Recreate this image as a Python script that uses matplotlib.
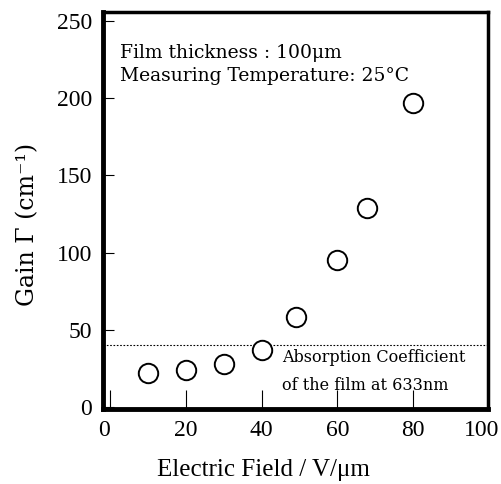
import matplotlib
matplotlib.use("Agg")
import matplotlib.pyplot as plt
from matplotlib.transforms import ScaledTranslation

# data
field = [10, 20, 30, 40, 49, 60, 68, 80]
gain = [22, 24, 28, 37, 58, 95, 129, 197]
absorption = 40
x_ticks = [0, 20, 40, 60, 80, 100]
y_ticks = [0, 50, 100, 150, 200, 250]

plt.rcParams['font.family'] = ['Liberation Serif', 'DejaVu Serif']
plt.rcParams['mathtext.fontset'] = 'dejavuserif'
wide = ['DejaVu Serif']

fig = plt.figure(figsize=(5.02, 4.84), dpi=100)
ax = fig.add_axes([0.205, 0.155, 0.768, 0.82])

ax.plot(field, gain, 'o', ms=14, mfc='white', mec='black', mew=1.4, zorder=3)
ax.axhline(absorption, color='black', lw=0.8, ls=(0, (1.5, 1.5)), zorder=2)

ax.set_xlim(-2, 100)
ax.set_ylim(-1.5, 256)
ax.set_xticks(x_ticks)
ax.set_yticks(y_ticks)
ax.tick_params(axis='x', direction='in', length=14, width=0.8, pad=8, labelsize=17)
ax.tick_params(axis='y', direction='in', length=8, width=0.8, pad=8, labelsize=17)

# first and last x labels sit a little inward in the original
xlabels = ax.get_xticklabels()
xlabels[0].set_transform(xlabels[0].get_transform() + ScaledTranslation(-0.06, 0, fig.dpi_scale_trans))
xlabels[-1].set_transform(xlabels[-1].get_transform() + ScaledTranslation(-0.07, 0, fig.dpi_scale_trans))

for side in ['left', 'bottom']:
    ax.spines[side].set_linewidth(3.5)
for side in ['top', 'right']:
    ax.spines[side].set_linewidth(2.5)

ax.set_xlabel('Electric Field / V/μm', fontsize=18)
ax.xaxis.set_label_coords(0.417, -0.125)
ax.set_ylabel('Gain Γ (cm⁻¹)', fontsize=17, family=wide)
ax.yaxis.set_label_coords(-0.165, 0.466)

ax.text(2.5, 229.5, 'Film thickness : 100μm', fontsize=13.5, va='center', family=wide)
ax.text(2.5, 214.5, 'Measuring Temperature: 25°C', fontsize=13.5, va='center', family=wide)
ax.text(45.5, 32, 'Absorption Coefficient', fontsize=11.5, va='center', family=wide)
ax.text(45.5, 14, 'of the film at 633nm', fontsize=11.5, va='center', family=wide)

fig.savefig('out.png', dpi=100)
